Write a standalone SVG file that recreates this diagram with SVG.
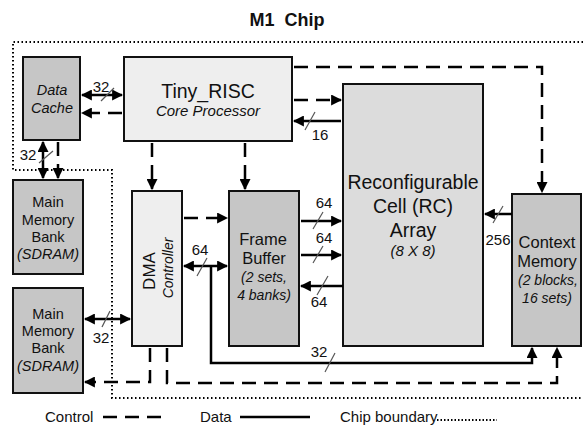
<svg xmlns="http://www.w3.org/2000/svg" width="583" height="425" viewBox="0 0 583 425">
<defs>
<marker id="ah" viewBox="0 0 10 10" refX="9" refY="5" markerWidth="11" markerHeight="11" markerUnits="userSpaceOnUse" orient="auto-start-reverse">
<path d="M0,0 L10,5 L0,10 Z" fill="#000"/>
</marker>
<style>
.box{stroke:#111;stroke-width:2}
.dark{fill:#c6c6c6}
.light{fill:#eeeeee}
.mid{fill:#dcdcdc}
.t{font-family:"Liberation Sans",Arial,sans-serif;fill:#111;text-anchor:middle}
.i{font-style:italic}
.sol{fill:none;stroke:#000;stroke-width:2.5}
.dsh{fill:none;stroke:#000;stroke-width:2.5;stroke-dasharray:14 8}
.sl{stroke:#555;stroke-width:1.2}
.lbl{font-family:"Liberation Sans",Arial,sans-serif;font-size:15px;fill:#111;text-anchor:middle}
.leg{font-family:"Liberation Sans",Arial,sans-serif;font-size:15px;fill:#111}
.dot{fill:none;stroke:#000;stroke-width:2;stroke-dasharray:1.5 2.5}
</style>
</defs>
<rect width="583" height="425" fill="#fff"/>
<text class="t" x="287" y="26" font-size="18" font-weight="bold" xml:space="preserve">M1  Chip</text>
<path class="dot" d="M583,42 H13 V170 H112 V398 H583"/>

<g id="data-cache"><rect class="box dark" x="23" y="57" width="57" height="83"/>
<text class="t i" x="52" y="95" font-size="14.5">Data</text><text class="t i" x="52" y="113" font-size="14.5">Cache</text></g>
<g id="tiny-risc"><rect class="box light" x="124" y="57" width="168" height="84"/>
<text class="t" x="208" y="98" font-size="19.5">Tiny_RISC</text><text class="t i" x="208" y="116" font-size="15">Core Processor</text></g>
<g id="main-memory-1"><rect class="box dark" x="13" y="180" width="70" height="94"/>
<text class="t" x="48" y="207" font-size="14.5">Main</text><text class="t" x="48" y="225" font-size="14.5">Memory</text><text class="t" x="48" y="242" font-size="14.5">Bank</text><text class="t i" x="48" y="259" font-size="14.5">(SDRAM)</text></g>
<g id="main-memory-2"><rect class="box dark" x="13" y="288" width="70" height="105"/>
<text class="t" x="48" y="319" font-size="14.5">Main</text><text class="t" x="48" y="336" font-size="14.5">Memory</text><text class="t" x="48" y="353" font-size="14.5">Bank</text><text class="t i" x="48" y="371" font-size="14.5">(SDRAM)</text></g>
<g id="dma"><rect class="box light" x="132" y="191" width="50" height="155"/>
<text class="t" transform="translate(155,271) rotate(-90)" font-size="17">DMA</text>
<text class="t i" transform="translate(173,268) rotate(-90)" font-size="14">Controller</text></g>
<g id="frame-buffer"><rect class="box dark" x="229" y="191" width="70" height="155"/>
<text class="t" x="263" y="245" font-size="16.5">Frame</text><text class="t" x="264" y="264" font-size="16.5">Buffer</text><text class="t i" x="264" y="282" font-size="14">(2 sets,</text><text class="t i" x="264" y="300" font-size="14">4 banks)</text></g>
<g id="rc-array"><rect class="box mid" x="343" y="84" width="140" height="262"/>
<text class="t" x="413" y="189" font-size="19.5">Reconfigurable</text><text class="t" x="413" y="213" font-size="19.5">Cell (RC)</text><text class="t" x="413" y="237" font-size="19.5">Array</text><text class="t i" x="413" y="256" font-size="15">(8 X 8)</text></g>
<g id="context-memory"><rect class="box dark" x="512" y="194" width="69" height="152"/>
<text class="t" x="547" y="248" font-size="16.5">Context</text><text class="t" x="547" y="267" font-size="16.5">Memory</text><text class="t i" x="548" y="285" font-size="14">(2 blocks,</text><text class="t i" x="547" y="303" font-size="14">16 sets)</text></g>

<g id="connectors">
<line class="sol" x1="82" y1="95" x2="122" y2="95" marker-start="url(#ah)" marker-end="url(#ah)"/>
<line class="dsh" x1="122" y1="113" x2="82" y2="113" stroke-dasharray="8 14" marker-end="url(#ah)"/>
<line class="sol" x1="43" y1="142" x2="43" y2="178" marker-start="url(#ah)" marker-end="url(#ah)"/>
<line class="dsh" x1="58" y1="142" x2="58" y2="178" stroke-dasharray="10 8" marker-end="url(#ah)"/>
<line class="dsh" x1="152" y1="143" x2="152" y2="189" marker-end="url(#ah)"/>
<line class="dsh" x1="245" y1="143" x2="245" y2="189" marker-end="url(#ah)"/>
<line class="dsh" x1="294" y1="100" x2="341" y2="100" marker-end="url(#ah)"/>
<line class="sol" x1="341" y1="121" x2="294" y2="121" marker-end="url(#ah)"/>
<path class="dsh" d="M294,67 H542 V192" marker-end="url(#ah)"/>
<line class="dsh" x1="184" y1="218" x2="227" y2="218" marker-end="url(#ah)"/>
<line class="sol" x1="184" y1="266" x2="227" y2="266" marker-start="url(#ah)" marker-end="url(#ah)"/>
<path class="sol" d="M211,266 V363 H532 V348" marker-end="url(#ah)"/>
<line class="sol" x1="85" y1="319" x2="130" y2="319" marker-start="url(#ah)" marker-end="url(#ah)"/>
<path class="dsh" d="M150,348 V382 H85" stroke-dasharray="12 8" marker-end="url(#ah)"/>
<path class="dsh" d="M167,348 V383 H557 V348" marker-end="url(#ah)"/>
<line class="sol" x1="301" y1="221" x2="341" y2="221" marker-end="url(#ah)"/>
<line class="sol" x1="301" y1="255" x2="341" y2="255" marker-end="url(#ah)"/>
<line class="sol" x1="343" y1="286" x2="301" y2="286" marker-end="url(#ah)"/>
<line class="sol" x1="512" y1="214" x2="485" y2="214" marker-end="url(#ah)"/>
<g id="bus-widths">
<line class="sl" x1="101" y1="101" x2="114" y2="88"/><text class="lbl" x="101" y="92">32</text>
<line class="sl" x1="39" y1="163" x2="53" y2="151"/><text class="lbl" x="28" y="160">32</text>
<line class="sl" x1="305" y1="130" x2="315" y2="112"/><text class="lbl" x="320" y="140">16</text>
<line class="sl" x1="313" y1="229" x2="323" y2="212"/><text class="lbl" x="324" y="208">64</text>
<line class="sl" x1="313" y1="263" x2="323" y2="246"/><text class="lbl" x="324" y="243">64</text>
<line class="sl" x1="317" y1="295" x2="328" y2="276"/><text class="lbl" x="319" y="307">64</text>
<line class="sl" x1="493" y1="223" x2="503" y2="206"/><text class="lbl" x="498" y="245">256</text>
<line class="sl" x1="197" y1="276" x2="207" y2="258"/><text class="lbl" x="200" y="255">64</text>
<line class="sl" x1="102" y1="327" x2="110" y2="311"/><text class="lbl" x="101" y="343">32</text>
<line class="sl" x1="325" y1="372" x2="335" y2="353"/><text class="lbl" x="319" y="357">32</text>
</g>
</g>

<g id="legend">
<text class="leg" x="45" y="422">Control</text>
<line x1="103" y1="417" x2="167" y2="417" stroke="#000" stroke-width="2.5" stroke-dasharray="14 8"/>
<text class="leg" x="200" y="422">Data</text>
<line x1="240" y1="417" x2="310" y2="417" stroke="#000" stroke-width="2.5"/>
<text class="leg" x="340" y="422">Chip boundary</text>
<line x1="437" y1="420" x2="497" y2="420" stroke="#000" stroke-width="1.8" stroke-dasharray="1.5 2"/>
</g>
</svg>
